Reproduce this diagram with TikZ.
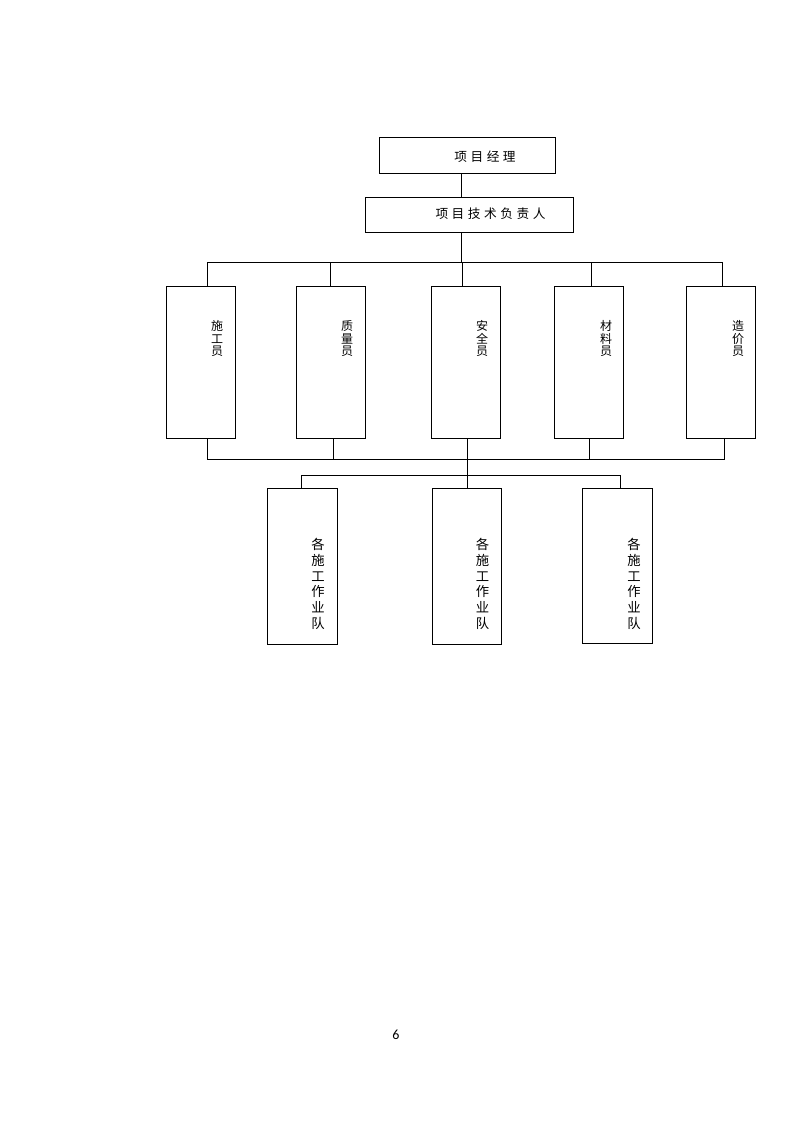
\documentclass[tikz,border=0pt]{standalone}
\usepackage{fontspec}
\setmainfont{Carlito}
\newfontfamily\cjk{Noto Sans CJK SC}
\newfontfamily\cjkwide[LetterSpace=28]{Noto Sans CJK SC}
\usetikzlibrary{calc}

\begin{document}
\begin{tikzpicture}[x=0.75pt,y=-0.75pt,line width=0.75pt,
    box/.style={draw,inner sep=0pt},
    headbox/.style={box,minimum height=26.5pt},
    staffbox/.style={box,minimum width=51.75pt,minimum height=114pt},
    teambox/.style={box,minimum width=52pt,minimum height=116.5pt},
    headtext/.style={inner sep=0pt,font=\cjkwide\fontsize{9.5}{11}\selectfont},
    stafftext/.style={inner sep=0pt,align=center,font=\cjk\fontsize{9}{9.4}\selectfont},
    teamtext/.style={inner sep=0pt,align=center,font=\cjk\fontsize{10}{11.8}\selectfont}]
    \useasboundingbox (0,0) rectangle (793,1122);

    \node [headbox,minimum width=132pt] (pm) at (467,155.5) {};
    \node [headtext] (pmtext) at (485,157) {项目经理};
    \node [headbox,minimum width=156pt] (tech) at (469,215) {};
    \node [headtext] (techtext) at (490.5,214) {项目技术负责人};

    \coordinate (topbus) at (461,262);
    \coordinate (lowbus) at (467,459);
    \coordinate (teambus) at (467,475);

    \draw (topbus |- pm.south) -- (topbus |- tech.north);
    \draw (topbus |- tech.south) -- (topbus);

    \foreach \cx/\tx/\du/\dd/\txt [count=\i] in {200.5/217/6.5/6.5/施\\工\\员, 330.5/347/-0.5/2.5/质\\量\\员,
        465.5/482/-3.5/1.5/安\\全\\员, 588.5/606/2.5/0.5/材\\料\\员, 721/738/1/3/造\\价\\员}
    {
        \node [staffbox] (b\i) at (\cx,362) {};
        \node [stafftext] (t\i) at (\tx,338.5) {\txt};
        \draw ($(b\i.north)+(\du,0)$) |- (topbus);
        \draw ($(b\i.south)+(\dd,0)$) |- (lowbus);
    }

    \node [teambox] (teamA) at (302.5,566.5) {};
    \node [teamtext] (teamAtext) at (318,584) {各\\施\\工\\作\\业\\队};
    \node [teambox] (teamB) at (467,566.5) {};
    \node [teamtext] (teamBtext) at (482.5,584) {各\\施\\工\\作\\业\\队};
    \node [teambox] (teamC) at (617.5,566) {};
    \node [teamtext] (teamCtext) at (634,584) {各\\施\\工\\作\\业\\队};

    \draw (lowbus) -- (teamB.north);
    \draw ($(teamA.north)+(-1.5,0)$) |- (teambus);
    \draw ($(teamC.north)+(2.5,0)$) |- (teambus);

    \node (pgno) at (396,1035) {\fontsize{10.5}{12}\selectfont 6};
\end{tikzpicture}
\end{document}
